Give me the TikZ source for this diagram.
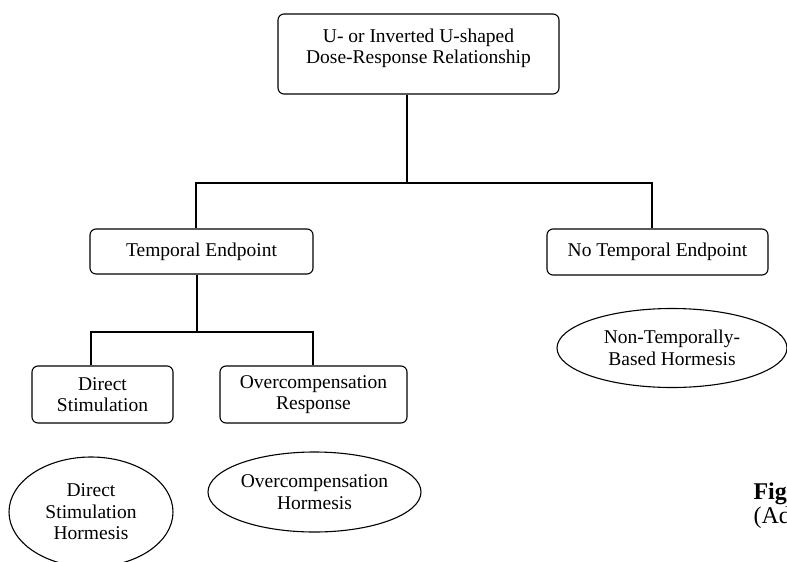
\documentclass[tikz,border=0pt]{standalone}
\usepackage{fontspec}
\setmainfont{Liberation Serif}
\usetikzlibrary{positioning,shapes.geometric}

\begin{document}
\begin{tikzpicture}[x=1pt,y=-1pt,line width=1.1pt,
    every node/.style={font=\fontsize{19.5}{21.5}\selectfont},
    box/.style={draw,rounded corners=6pt,align=center,inner sep=0pt},
    oval/.style={draw,ellipse,align=center,inner sep=0pt}]
  \useasboundingbox (0,0) rectangle (787,562);
  \clip (0,0) rectangle (787,562);
  \node (top) [box,minimum width=281pt,minimum height=80pt] at (418.5,54) {};
  \node (toptxt) [below=14.5pt of top.north,align=center,inner sep=0pt] {U- or Inverted U-shaped\\Dose-Response Relationship};
  \node (temp) [box,minimum width=223pt,minimum height=45pt] at (201.5,251.5) {Temporal Endpoint};
  \node (notemp) [box,minimum width=221pt,minimum height=46pt] at (657.5,252) {No Temporal Endpoint};
  \node (direct) [box,minimum width=141pt,minimum height=57pt] at (102.5,394.5) {Direct\\Stimulation};
  \node (overc) [box,minimum width=187pt,minimum height=57pt] at (313.5,394.5) {Overcompensation\\Response};
  \node (ntbh) [oval,minimum width=230pt,minimum height=79pt] at (672,348) {Non-Temporally-\\Based Hormesis};
  \node (dsh) [oval,minimum width=164pt,minimum height=110pt] at (91,512) {Direct\\Stimulation\\Hormesis};
  \node (och) [oval,minimum width=213pt,minimum height=80pt] at (314.5,492) {Overcompensation\\Hormesis};
  \node (figno) [anchor=base west,inner sep=0pt,font=\fontsize{24}{26}\selectfont\bfseries] at (753,499) {Fig};
  \node (figsrc) [anchor=base west,inner sep=0pt,font=\fontsize{24}{26}\selectfont] at (753,523) {(Ad};
  \coordinate (j1) at (407,183);
  \coordinate (j2) at (197,332);
  \draw (top.south -| j1) -- (j1);
  \draw (temp.north -| 196,0) |- (j1) -| (notemp.north -| 652,0);
  \draw (temp.south -| j2) -- (j2);
  \draw (direct.north -| 91,0) |- (j2) -| (overc.north -| 313,0);
\end{tikzpicture}
\end{document}
